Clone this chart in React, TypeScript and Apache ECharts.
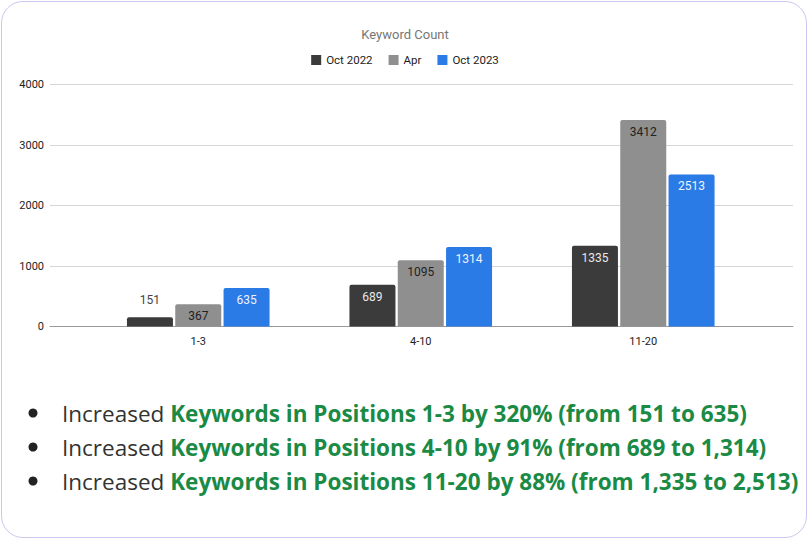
import React, { useEffect, useRef } from "react";
import * as echarts from "echarts";

type EChartsOption = echarts.EChartsOption;

const categories = ["1-3", "4-10", "11-20"];
const oct2022 = [151, 689, 1335];
const apr = [367, 1095, 3412];
const oct2023 = [635, 1314, 2513];
const yTicks = [0, 1000, 2000, 3000, 4000];

const bullets = [
  ["Increased ", "Keywords in Positions 1-3 by 320% (from 151 to 635)"],
  ["Increased ", "Keywords in Positions 4-10 by 91% (from 689 to 1,314)"],
  ["Increased ", "Keywords in Positions 11-20 by 88% (from 1,335 to 2,513)"],
];

const FONT = "Roboto, 'Noto Sans', sans-serif";
const BODY_FONT = "'Open Sans', sans-serif";

const seriesData = (values: number[], inside: string) =>
  values.map((v) =>
    v < 300
      ? { value: v, label: { position: "top" as const, distance: 11, color: "#444" } }
      : { value: v, label: { color: inside } }
  );

const App: React.FC = () => {
  const chartRef = useRef<HTMLDivElement>(null);

  useEffect(() => {
    if (!chartRef.current) return;
    const myChart = echarts.init(chartRef.current, undefined, { renderer: "svg" });

    const barLabel = {
      show: true,
      position: "insideTop" as const,
      distance: 6,
      fontSize: 12,
      fontFamily: FONT,
    };

    const option: EChartsOption = {
      animation: false,
      backgroundColor: "transparent",
      title: {
        text: "Keyword Count",
        left: "center",
        top: 23,
        textStyle: { color: "#777", fontSize: 13, fontWeight: "normal", fontFamily: FONT },
      },
      legend: {
        top: 49,
        left: "center",
        icon: "rect",
        itemWidth: 10,
        itemHeight: 10,
        itemGap: 16,
        textStyle: { color: "#222", fontSize: 11.5, fontFamily: FONT },
        data: ["Oct 2022", "Apr", "Oct 2023"],
      },
      grid: [
        { left: 87, right: 55.5, top: 84.5, bottom: 213.5 },
        { left: 50, right: 17, top: 84.5, bottom: 213.5 },
      ],
      xAxis: [
        {
          type: "category",
          gridIndex: 0,
          data: categories,
          axisLine: { show: false },
          axisTick: { show: false },
          axisLabel: { color: "#222", fontSize: 11, margin: 9, fontFamily: FONT },
        },
        {
          type: "value",
          gridIndex: 1,
          min: 0,
          max: 1,
          axisLine: { show: true, onZero: false, lineStyle: { color: "#9a9a9a", width: 1 } },
          axisTick: { show: false },
          axisLabel: { show: false },
          splitLine: { show: false },
        },
      ],
      yAxis: [
        {
          type: "value",
          gridIndex: 0,
          min: yTicks[0],
          max: yTicks[yTicks.length - 1],
          interval: 1000,
          axisLine: { show: false },
          axisTick: { show: false },
          axisLabel: { show: false },
          splitLine: { show: false },
        },
        {
          type: "value",
          gridIndex: 1,
          min: yTicks[0],
          max: yTicks[yTicks.length - 1],
          interval: 1000,
          axisLine: { show: false },
          axisTick: { show: false },
          axisLabel: {
            color: "#222",
            fontSize: 11,
            margin: 6,
            fontFamily: FONT,
            formatter: (v: number) => String(v),
          },
          splitLine: { lineStyle: { color: "#d6d6d6", width: 1 } },
        },
      ],
      series: [
        {
          name: "Oct 2022",
          type: "bar",
          xAxisIndex: 0,
          yAxisIndex: 0,
          barWidth: 46,
          barGap: "5%",
          data: seriesData(oct2022, "#e8e8e8"),
          itemStyle: { color: "#3b3b3b", borderRadius: [2, 2, 0, 0] },
          label: barLabel,
        },
        {
          name: "Apr",
          type: "bar",
          xAxisIndex: 0,
          yAxisIndex: 0,
          barWidth: 46,
          barGap: "5%",
          data: seriesData(apr, "#222"),
          itemStyle: { color: "#8f8f8f", borderRadius: [2, 2, 0, 0] },
          label: barLabel,
        },
        {
          name: "Oct 2023",
          type: "bar",
          xAxisIndex: 0,
          yAxisIndex: 0,
          barWidth: 46,
          barGap: "5%",
          data: seriesData(oct2023, "#eef4ff"),
          itemStyle: { color: "#2a7be6", borderRadius: [2, 2, 0, 0] },
          label: barLabel,
        },
      ],
      graphic: bullets.flatMap((b, i) => [
        {
          type: "circle",
          shape: { cx: 33, cy: 413 + i * 34, r: 4.5 },
          style: { fill: "#222" },
        },
        {
          type: "text",
          x: 62,
          y: 413 + i * 34,
          style: {
            text: `{a|${b[0]}}{b|${b[1]}}`,
            verticalAlign: "middle",
            rich: {
              a: { fontSize: 22.5, fill: "#333", fontFamily: BODY_FONT, fontWeight: "normal" },
              b: { fontSize: 22.5, fill: "#1a8a44", fontFamily: BODY_FONT, fontWeight: "bold" },
            },
          },
        },
      ]),
    };

    myChart.setOption(option);
    return () => {
      myChart.dispose();
    };
  }, []);

  return (
    <div style={{ position: "fixed", left: 0, top: 0, width: 810, height: 540, background: "#fff" }}>
      <div
        style={{
          position: "absolute",
          left: 1,
          top: 1,
          width: 804,
          height: 535,
          border: "1.5px solid #cbc8f0",
          borderRadius: 22,
        }}
      />
      <div ref={chartRef} style={{ position: "absolute", left: 0, top: 0, width: 810, height: 540 }} />
    </div>
  );
};

export default App;
